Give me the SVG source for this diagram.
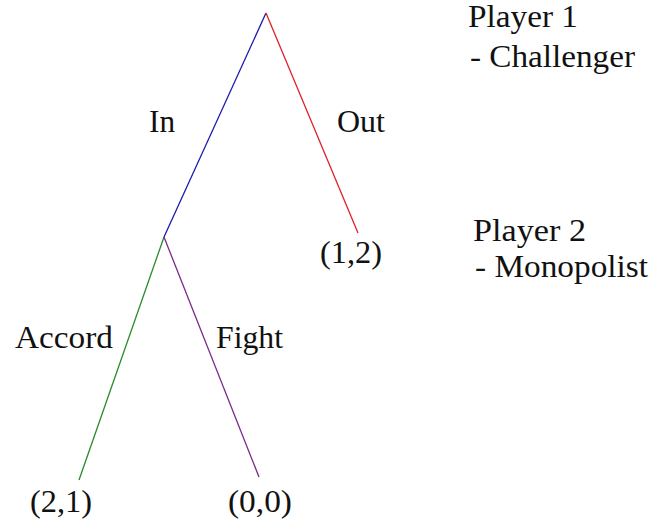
<svg xmlns="http://www.w3.org/2000/svg" width="652" height="522" viewBox="0 0 652 522">
<style>
.e{stroke-width:1.3;fill:none;}
</style>
<rect width="652" height="522" fill="#fff"/>
<g id="connectors">
<line class="e" x1="266" y1="13" x2="164" y2="237" stroke="#1a1aaa"/>
<line class="e" x1="266" y1="13" x2="358" y2="233" stroke="#e0202a"/>
<line class="e" x1="164" y1="237" x2="79" y2="480" stroke="#2a8a2a"/>
<line class="e" x1="164" y1="237" x2="259" y2="477" stroke="#7a2a8a"/>
</g>
<g font-family="Liberation Serif, DejaVu Serif, serif" font-size="31" fill="#111">
<g id="edge-labels">
<text x="149" y="132" textLength="26" lengthAdjust="spacingAndGlyphs">In</text>
<text x="337" y="132" textLength="48" lengthAdjust="spacingAndGlyphs">Out</text>
<text x="15" y="348" textLength="98" lengthAdjust="spacingAndGlyphs">Accord</text>
<text x="216" y="348" textLength="67" lengthAdjust="spacingAndGlyphs">Fight</text>
</g>
<g id="payoff-12"><text x="320" y="263" textLength="62" lengthAdjust="spacingAndGlyphs">(1,2)</text></g>
<g id="payoff-21"><text x="30" y="512" textLength="62" lengthAdjust="spacingAndGlyphs">(2,1)</text></g>
<g id="payoff-00"><text x="228" y="512" textLength="64" lengthAdjust="spacingAndGlyphs">(0,0)</text></g>
<g id="player1">
<text x="468" y="27" textLength="110" lengthAdjust="spacingAndGlyphs">Player 1</text>
<text x="470" y="67" textLength="165" lengthAdjust="spacingAndGlyphs">- Challenger</text>
</g>
<g id="player2">
<text x="473" y="241" textLength="113" lengthAdjust="spacingAndGlyphs">Player 2</text>
<text x="475" y="277" textLength="173" lengthAdjust="spacingAndGlyphs">- Monopolist</text>
</g>
</g>
</svg>
